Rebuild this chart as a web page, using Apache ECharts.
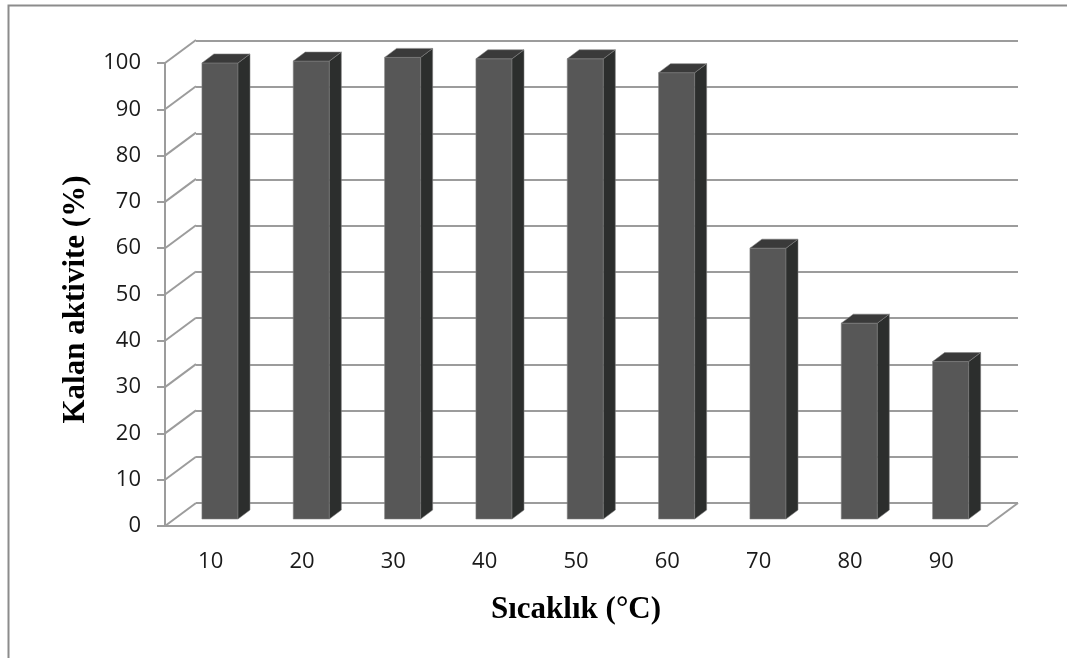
<!DOCTYPE html>
<html>
<head>
<meta charset="utf-8">
<title>Kalan aktivite</title>
<script src="https://cdn.jsdelivr.net/npm/echarts@6/dist/echarts.min.js"></script>
<style>
  html, body { margin: 0; padding: 0; background: #fff; }
  #chart { width: 1067px; height: 658px; }
</style>
</head>
<body>
<div id="chart"></div>
<script>
// Temperature categories (°C) and remaining activity (%)
const categories = ['10', '20', '30', '40', '50', '60', '70', '80', '90'];
const activity = [98.5, 98.9, 99.7, 99.4, 99.4, 96.4, 58.5, 42.3, 34.0];
const tickValues = [0, 10, 20, 30, 40, 50, 60, 70, 80, 90, 100];

// Oblique projection of the 3D box: front plane -> back wall offset
const DEPTH_DX = 31, DEPTH_DY = -23;
// Bars sit a little behind the front plane and have their own depth
const BAR_SHIFT_DX = 9.3, BAR_SHIFT_DY = -7;
const BAR_DEPTH_DX = 12, BAR_DEPTH_DY = -9;
const GRID_COLOR = '#9c9c9c';

const chart = echarts.init(document.getElementById('chart'));

function renderWallEdges(params, api) {
  const cs = params.coordSys;
  const y = api.coord([0, api.value(1)])[1];
  return {
    type: 'line',
    shape: { x1: cs.x, y1: y, x2: cs.x + DEPTH_DX, y2: y + DEPTH_DY },
    style: { stroke: GRID_COLOR, lineWidth: 2 }
  };
}

function renderFloorEdge(params, api) {
  const cs = params.coordSys;
  const y = api.coord([0, 0])[1];
  const x = cs.x + cs.width;
  return {
    type: 'line',
    shape: { x1: x, y1: y, x2: x + DEPTH_DX, y2: y + DEPTH_DY },
    style: { stroke: GRID_COLOR, lineWidth: 2 }
  };
}

function renderBar(params, api) {
  const idx = api.value(0);
  const top = api.coord([idx, api.value(1)]);
  const base = api.coord([idx, 0]);
  const band = api.size([1, 0])[0];
  const w = band * 0.395;
  const x = top[0] + BAR_SHIFT_DX - w / 2;
  const yTop = top[1] + BAR_SHIFT_DY;
  const yBase = base[1] + BAR_SHIFT_DY;
  const edge = 'rgba(130,130,130,0.55)';
  return {
    type: 'group',
    children: [
      {
        type: 'rect',
        shape: { x: x, y: yTop, width: w, height: yBase - yTop },
        style: { fill: '#575757', stroke: edge, lineWidth: 1 }
      },
      {
        type: 'polygon',
        shape: { points: [
          [x + w, yTop], [x + w + BAR_DEPTH_DX, yTop + BAR_DEPTH_DY],
          [x + w + BAR_DEPTH_DX, yBase + BAR_DEPTH_DY], [x + w, yBase]
        ] },
        style: { fill: '#2c2e2d', stroke: edge, lineWidth: 1 }
      },
      {
        type: 'polygon',
        shape: { points: [
          [x, yTop], [x + BAR_DEPTH_DX, yTop + BAR_DEPTH_DY],
          [x + w + BAR_DEPTH_DX, yTop + BAR_DEPTH_DY], [x + w, yTop]
        ] },
        style: { fill: '#3a3a3a', stroke: edge, lineWidth: 1 }
      }
    ]
  };
}

const labelFont = { fontFamily: 'Open Sans', fontSize: 22, color: '#1a1a1a' };
const titleFont = { fontFamily: 'Liberation Serif', fontWeight: 'bold', fontSize: 31, color: '#000' };

chart.setOption({
  animation: false,
  backgroundColor: '#fff',
  graphic: [{
    type: 'rect',
    left: 6, top: 3,
    shape: { width: 1060, height: 700 },
    style: { fill: 'none', stroke: '#8c8c8c', lineWidth: 2 },
    silent: true
  }],
  grid: [
    // back wall
    { left: 196, top: 41, width: 822, height: 462 },
    // front plane
    { left: 165, top: 63, width: 822, height: 463 }
  ],
  xAxis: [
    { gridIndex: 0, type: 'category', data: categories, show: false },
    {
      gridIndex: 1, type: 'category', data: categories,
      axisLine: { show: true, lineStyle: { color: GRID_COLOR, width: 2 } },
      axisTick: { show: false },
      axisLabel: Object.assign({ margin: 25 }, labelFont),
      name: 'Sıcaklık (°C)', nameLocation: 'middle', nameGap: 68,
      nameTextStyle: titleFont
    }
  ],
  yAxis: [
    {
      gridIndex: 0, type: 'value', min: 0, max: 100, interval: 10,
      axisLine: { show: false }, axisTick: { show: false }, axisLabel: { show: false },
      splitLine: { show: true, lineStyle: { color: GRID_COLOR, width: 2 } }
    },
    {
      gridIndex: 1, type: 'value', min: 0, max: 100, interval: 10,
      axisLine: { show: true, lineStyle: { color: GRID_COLOR, width: 2 } },
      axisTick: { show: true, length: 8, lineStyle: { color: GRID_COLOR, width: 2 } },
      axisLabel: Object.assign({ margin: 24 }, labelFont),
      splitLine: { show: false },
      name: 'Kalan aktivite (%)', nameLocation: 'middle', nameGap: 74,
      nameTextStyle: Object.assign({ padding: [0, 10, 0, 0] }, titleFont)
    }
  ],
  series: [
    {
      type: 'custom', name: 'wall edges', xAxisIndex: 1, yAxisIndex: 1,
      renderItem: renderWallEdges, silent: true,
      data: tickValues.map(v => [0, v])
    },
    {
      type: 'custom', name: 'floor edge', xAxisIndex: 1, yAxisIndex: 1,
      renderItem: renderFloorEdge, silent: true,
      data: [[0, 0]]
    },
    {
      type: 'custom', name: 'Kalan aktivite', xAxisIndex: 1, yAxisIndex: 1,
      renderItem: renderBar,
      data: activity.map((v, i) => [i, v])
    }
  ]
});
</script>
</body>
</html>
